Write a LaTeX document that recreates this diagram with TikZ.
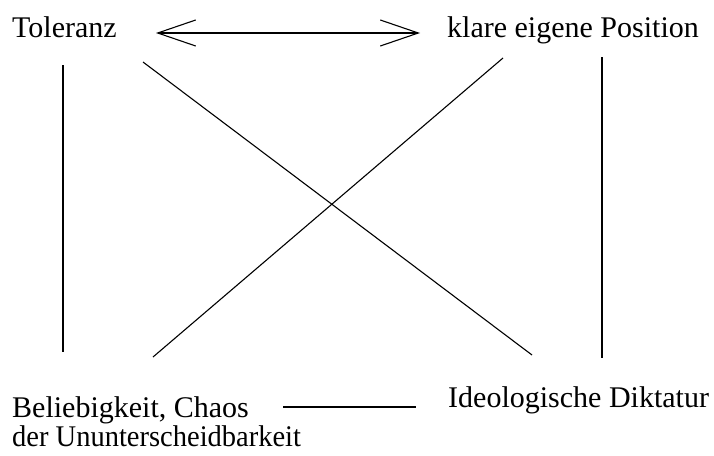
\documentclass[tikz,border=0pt]{standalone}
\usepackage{fontspec}
\setmainfont{Liberation Serif}
\usetikzlibrary{arrows.meta}
\begin{document}
\begin{tikzpicture}[x=1pt,y=-1pt,
  lbl/.style={anchor=base west,inner sep=0pt,font=\fontsize{30}{27}\selectfont},
  ln/.style={line width=1.1pt,black},
  dblarrow/.style={ln,{Straight Barb[length=38pt,width=26pt,line width=1.1pt]}-{Straight Barb[length=38pt,width=26pt,line width=1.1pt]}}]
\useasboundingbox (0,0) rectangle (714,455);
\node[lbl] (tol) at (12,37) {Toleranz};
\node[lbl] (pos) at (447,37) {klare eigene Position};
\node[lbl,align=left] (bel) at (12,446) {Beliebigkeit, Chaos\\\scalebox{0.95}[1]{der Ununterscheidbarkeit}};
\node[lbl] (ideo) at (448,407) {Ideologische Diktatur};
\coordinate (a1) at (156,33);
\coordinate (a2) at (420,33);
\coordinate (l1) at (63,65);
\coordinate (l2) at (63,352);
\coordinate (r1) at (602,57);
\coordinate (r2) at (602,358);
\coordinate (d1) at (143,62);
\coordinate (d2) at (532,355);
\coordinate (e1) at (503,58);
\coordinate (e2) at (153,357);
\coordinate (b1) at (283,407);
\coordinate (b2) at (416,407);
\draw[dblarrow] (a1) -- (a2);
\draw[ln] (l1) -- (l2);
\draw[ln] (r1) -- (r2);
\draw[ln] (d1) -- (d2);
\draw[ln] (e1) -- (e2);
\draw[ln] (b1) -- (b2);
\end{tikzpicture}
\end{document}
